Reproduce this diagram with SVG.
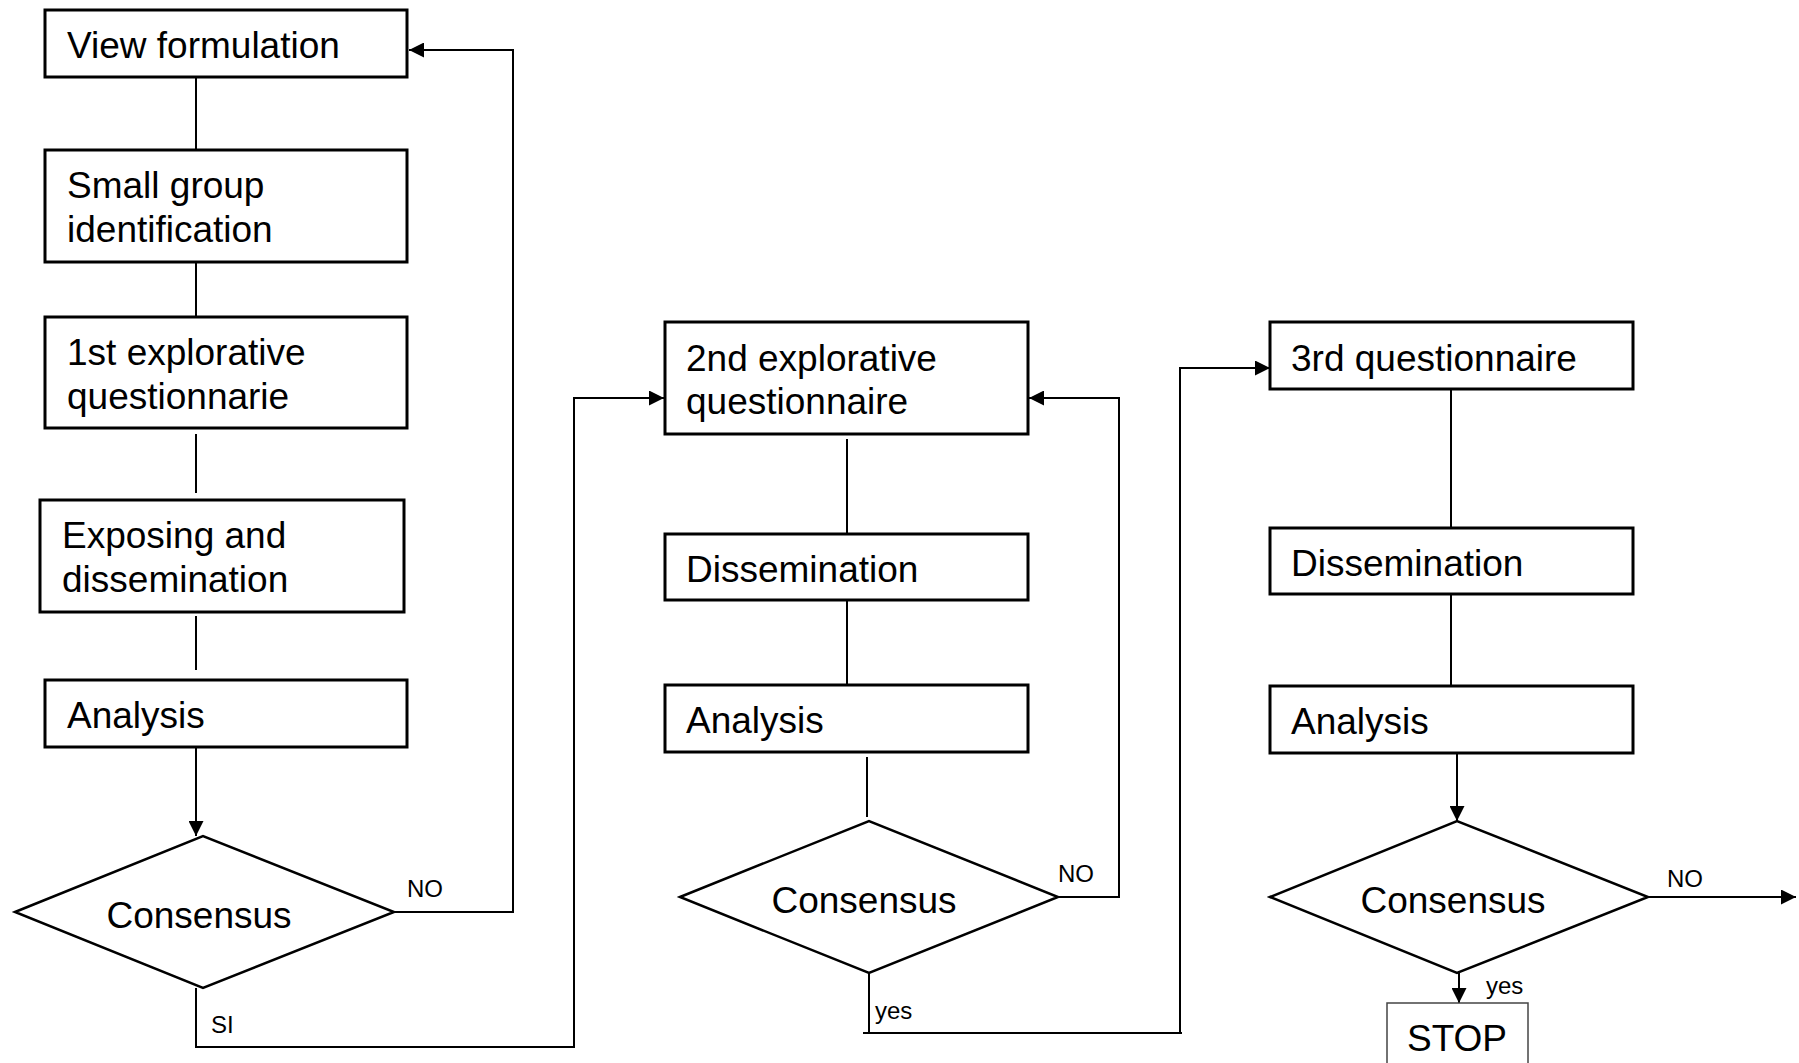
<svg xmlns="http://www.w3.org/2000/svg" width="1799" height="1063" viewBox="0 0 1799 1063">
<style>
.box{fill:#fff;stroke:#000;stroke-width:3}
.dia{fill:#fff;stroke:#000;stroke-width:2.5}
.ln{fill:none;stroke:#000;stroke-width:2}
.t{font-family:"Liberation Sans",Arial,sans-serif;font-size:37px;fill:#000}
.s{font-family:"Liberation Sans",Arial,sans-serif;font-size:24px;fill:#000}
</style>
<defs>
<marker id="arr" viewBox="0 0 15 15" refX="15" refY="7.5" markerWidth="15" markerHeight="15" markerUnits="userSpaceOnUse" orient="auto">
<path d="M0,0 L15,7.5 L0,15 Z" fill="#000"/>
</marker>
</defs>
<rect width="1799" height="1063" fill="#fff"/>
<g id="connectors">
<line class="ln" x1="196" y1="77" x2="196" y2="150"/>
<line class="ln" x1="196" y1="262" x2="196" y2="321"/>
<line class="ln" x1="196" y1="434" x2="196" y2="493"/>
<line class="ln" x1="196" y1="616" x2="196" y2="670"/>
<line class="ln" x1="196" y1="747" x2="196" y2="836" marker-end="url(#arr)"/>
<polyline class="ln" points="394,912 513,912 513,50 409,50" marker-end="url(#arr)"/>
<polyline class="ln" points="196,988 196,1047 574,1047 574,398 664,398" marker-end="url(#arr)"/>
<line class="ln" x1="847" y1="439" x2="847" y2="534"/>
<line class="ln" x1="847" y1="600" x2="847" y2="685"/>
<line class="ln" x1="867" y1="757" x2="867" y2="817"/>
<polyline class="ln" points="1058,897 1119,897 1119,398 1029,398" marker-end="url(#arr)"/>
<polyline class="ln" points="869,973 869,1033"/>
<line class="ln" x1="863" y1="1033" x2="1182" y2="1033"/>
<polyline class="ln" points="1180,1033 1180,368 1270,368" marker-end="url(#arr)"/>
<line class="ln" x1="1451" y1="389" x2="1451" y2="528"/>
<line class="ln" x1="1451" y1="594" x2="1451" y2="686"/>
<line class="ln" x1="1457" y1="753" x2="1457" y2="821" marker-end="url(#arr)"/>
<line class="ln" x1="1648" y1="897" x2="1796" y2="897" marker-end="url(#arr)"/>
<line class="ln" x1="1459" y1="973" x2="1459" y2="1003" marker-end="url(#arr)"/>
<text class="s" x="407" y="897">NO</text>
<text class="s" x="211" y="1033">SI</text>
<text class="s" x="1058" y="882">NO</text>
<text class="s" x="875" y="1019">yes</text>
<text class="s" x="1667" y="887">NO</text>
<text class="s" x="1486" y="994">yes</text>
</g>
<g id="view-formulation">
<rect class="box" x="45" y="10" width="362" height="67"/>
<text class="t" x="67" y="58">View formulation</text>
</g>
<g id="small-group">
<rect class="box" x="45" y="150" width="362" height="112"/>
<text class="t" x="67" y="198">Small group</text>
<text class="t" x="67" y="242">identification</text>
</g>
<g id="first-questionnaire">
<rect class="box" x="45" y="317" width="362" height="111"/>
<text class="t" x="67" y="365">1st explorative</text>
<text class="t" x="67" y="409">questionnarie</text>
</g>
<g id="exposing">
<rect class="box" x="40" y="500" width="364" height="112"/>
<text class="t" x="62" y="548">Exposing and</text>
<text class="t" x="62" y="592">dissemination</text>
</g>
<g id="analysis-1">
<rect class="box" x="45" y="680" width="362" height="67"/>
<text class="t" x="67" y="728">Analysis</text>
</g>
<g id="consensus-1">
<polygon class="dia" points="15,912 203,836 394,912 203,988"/>
<text class="t" x="199" y="928" text-anchor="middle">Consensus</text>
</g>
<g id="second-questionnaire">
<rect class="box" x="665" y="322" width="363" height="112"/>
<text class="t" x="686" y="371">2nd explorative</text>
<text class="t" x="686" y="414">questionnaire</text>
</g>
<g id="dissemination-2">
<rect class="box" x="665" y="534" width="363" height="66"/>
<text class="t" x="686" y="582">Dissemination</text>
</g>
<g id="analysis-2">
<rect class="box" x="665" y="685" width="363" height="67"/>
<text class="t" x="686" y="733">Analysis</text>
</g>
<g id="consensus-2">
<polygon class="dia" points="680,897 869,821 1058,897 869,973"/>
<text class="t" x="864" y="913" text-anchor="middle">Consensus</text>
</g>
<g id="third-questionnaire">
<rect class="box" x="1270" y="322" width="363" height="67"/>
<text class="t" x="1291" y="371">3rd questionnaire</text>
</g>
<g id="dissemination-3">
<rect class="box" x="1270" y="528" width="363" height="66"/>
<text class="t" x="1291" y="576">Dissemination</text>
</g>
<g id="analysis-3">
<rect class="box" x="1270" y="686" width="363" height="67"/>
<text class="t" x="1291" y="734">Analysis</text>
</g>
<g id="consensus-3">
<polygon class="dia" points="1270,897 1457,821 1648,897 1457,973"/>
<text class="t" x="1453" y="913" text-anchor="middle">Consensus</text>
</g>
<g id="stop">
<rect x="1387" y="1003" width="141" height="70" fill="#fff" stroke="#444" stroke-width="1.5"/>
<text class="t" x="1457" y="1051" text-anchor="middle">STOP</text>
</g>
</svg>
